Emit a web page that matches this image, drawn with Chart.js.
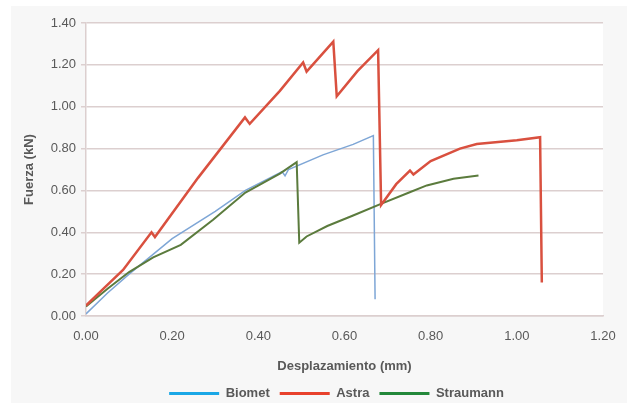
<!DOCTYPE html>
<html>
<head>
<meta charset="utf-8">
<script src="https://cdn.jsdelivr.net/npm/chart.js@4"></script>
<style>
    html, body { margin: 0; padding: 0; background: #ffffff; }
    #bg { position: absolute; left: 11px; top: 6px; width: 616px; height: 397px; background: #f7f7f7; }
    #wrap { position: absolute; left: 0; top: 0; width: 627px; height: 403px; }
</style>
</head>
<body>
<div id="bg"></div>
<div id="wrap"><canvas id="chart" width="627" height="403"></canvas></div>
<script>
// Biomet
const biometX = [0, 0.05, 0.10, 0.20, 0.30, 0.37, 0.455, 0.462, 0.47, 0.55, 0.62, 0.667, 0.671];
const biometY = [0.01, 0.11, 0.20, 0.37, 0.50, 0.60, 0.69, 0.67, 0.70, 0.77, 0.82, 0.862, 0.08];

// Astra
const astraX = [0, 0.04, 0.086, 0.152, 0.16, 0.26, 0.369, 0.38, 0.45, 0.504, 0.512, 0.574, 0.582, 0.63, 0.678, 0.685, 0.72, 0.752, 0.76, 0.80, 0.868, 0.907, 1.00, 1.054, 1.058];
const astraY = [0.05, 0.13, 0.22, 0.40, 0.377, 0.66, 0.949, 0.918, 1.076, 1.211, 1.168, 1.311, 1.05, 1.17, 1.27, 0.53, 0.63, 0.695, 0.676, 0.74, 0.80, 0.822, 0.84, 0.854, 0.16];

// Straumann
const straumannX = [0, 0.05, 0.10, 0.156, 0.22, 0.295, 0.37, 0.45, 0.489, 0.495, 0.512, 0.56, 0.62, 0.686, 0.75, 0.791, 0.853, 0.911];
const straumannY = [0.045, 0.13, 0.21, 0.28, 0.34, 0.46, 0.59, 0.68, 0.735, 0.35, 0.38, 0.43, 0.48, 0.537, 0.59, 0.624, 0.656, 0.671];

const seriesNames = ["Biomet", "Astra", "Straumann"];
const lineColors = ["#7ea6d6", "#d9503f", "#5b7b3d"];
const legendColors = ["#1aa7e6", "#e8412c", "#23883a"];
const lineWidths = [1.5, 2.5, 2];

const xTicksMax = 1.2;
const yTicksMax = 1.4;

const GRID_COLOR = "#dccfcf";
const TEXT_COLOR = "#595959";
const FONT = "Liberation Sans";

function toPoints(xs, ys) {
    let points = [];
    for (let i = 0; i < xs.length; i++) {
        points.push({ x: xs[i], y: ys[i] });
    }
    return points;
}

const seriesData = [toPoints(biometX, biometY), toPoints(astraX, astraY), toPoints(straumannX, straumannY)];

let datasets = [];
for (let i = 0; i < seriesNames.length; i++) {
    datasets.push({
        label: seriesNames[i],
        data: seriesData[i],
        borderColor: lineColors[i],
        backgroundColor: lineColors[i],
        borderWidth: lineWidths[i],
        pointRadius: 0,
        tension: 0,
        order: i == 0 ? 2 : 1,
    });
}

const plotBackground = {
    id: "plotBackground",
    beforeDraw(chart) {
        const a = chart.chartArea;
        chart.ctx.save();
        chart.ctx.fillStyle = "#ffffff";
        chart.ctx.fillRect(a.left, a.top, a.right - a.left, a.bottom - a.top);
        chart.ctx.restore();
    },
};

// nudge the legend a little, like the original
const legendNudge = {
    id: "legendNudge",
    afterLayout(chart) {
        const legend = chart.legend;
        legend.left -= 8;
        legend.right -= 8;
        legend.top += 3;
        legend.bottom += 3;
    },
};

new Chart(document.getElementById("chart"), {
    type: "line",
    data: { datasets: datasets },
    plugins: [plotBackground, legendNudge],
    options: {
        responsive: false,
        animation: false,
        layout: { padding: { top: 23, right: 24, bottom: 0, left: 0 } },
        scales: {
            x: {
                type: "linear",
                min: 0,
                max: xTicksMax,
                afterFit: (scale) => {
                    scale.height = 58;
                    scale.paddingLeft = 0;
                    scale.paddingRight = 0;
                },
                grid: { display: false, drawTicks: false },
                border: { display: true, color: GRID_COLOR, width: 1.5 },
                ticks: {
                    stepSize: 0.2,
                    padding: 13,
                    color: TEXT_COLOR,
                    font: { family: FONT, size: 13 },
                    callback: (v) => v.toFixed(2),
                },
                title: {
                    display: true,
                    text: "Desplazamiento (mm)",
                    color: TEXT_COLOR,
                    font: { family: FONT, size: 13, weight: "bold" },
                    padding: { top: 4, bottom: 0 },
                },
            },
            y: {
                min: 0,
                max: yTicksMax,
                afterFit: (scale) => { scale.width = 86; },
                grid: { color: GRID_COLOR, lineWidth: 1.5, tickLength: 5 },
                border: { display: true, color: GRID_COLOR, width: 1.5 },
                ticks: {
                    stepSize: 0.2,
                    padding: 5,
                    color: TEXT_COLOR,
                    font: { family: FONT, size: 13 },
                    callback: (v) => v.toFixed(2),
                },
                title: {
                    display: true,
                    text: "Fuerza (kN)",
                    color: TEXT_COLOR,
                    font: { family: FONT, size: 13, weight: "bold" },
                    padding: { top: 22, bottom: 0 },
                },
            },
        },
        plugins: {
            legend: {
                position: "bottom",
                fullSize: false,
                maxHeight: 29,
                labels: {
                    boxWidth: 50,
                    boxHeight: 3,
                    padding: 10,
                    color: TEXT_COLOR,
                    font: { family: FONT, size: 13, weight: "bold" },
                    generateLabels: (chart) => seriesNames.map((name, i) => ({
                        text: name,
                        fillStyle: legendColors[i],
                        strokeStyle: legendColors[i],
                        lineWidth: 0,
                        datasetIndex: i,
                        fontColor: TEXT_COLOR,
                    })),
                },
            },
            tooltip: { enabled: false },
        },
    },
});
</script>
</body>
</html>
